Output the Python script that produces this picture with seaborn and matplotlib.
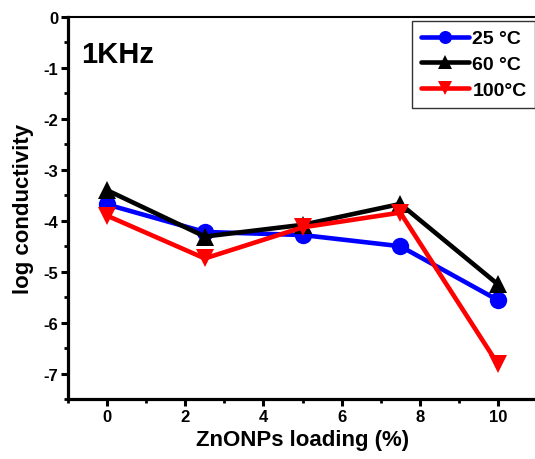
import numpy as np
import pandas as pd
import matplotlib
matplotlib.use("Agg")
import matplotlib.pyplot as plt
from matplotlib.ticker import MultipleLocator
import seaborn as sns

loading = [0, 2.5, 5, 7.5, 10]
t25 = [-3.68, -4.22, -4.28, -4.50, -5.56]
t60 = [-3.40, -4.31, -4.08, -3.67, -5.25]
t100 = [-3.90, -4.74, -4.13, -3.84, -6.82]
labels = ["25 °C", "60 °C", "100°C"]

df = pd.DataFrame({
    "loading": loading * 3,
    "logc": t25 + t60 + t100,
    "temp": [labels[0]] * 5 + [labels[1]] * 5 + [labels[2]] * 5,
})

sns.set_style("ticks")
plt.rcParams["font.family"] = ["Liberation Sans", "DejaVu Sans"]
plt.rcParams["font.weight"] = "bold"
plt.rcParams["text.color"] = "black"
plt.rcParams["axes.labelcolor"] = "black"
plt.rcParams["xtick.color"] = "black"
plt.rcParams["ytick.color"] = "black"
plt.rcParams["axes.unicode_minus"] = False

fig = plt.figure(figsize=(5.35, 4.6), dpi=100)
ax = fig.add_axes([0.127, 0.1304, 0.877, 0.8304])

sns.lineplot(data=df, x="loading", y="logc", hue="temp", style="temp",
             palette=["#0000ff", "#000000", "#ff0000"],
             markers=["o", "^", "v"], dashes=False, linewidth=3.3,
             markersize=12.5, markeredgewidth=0, ax=ax)

ax.set_xlim(-1, 11)
ax.set_ylim(-7.5, 0)
ax.xaxis.set_major_locator(MultipleLocator(2))
ax.xaxis.set_minor_locator(MultipleLocator(1))
ax.yaxis.set_major_locator(MultipleLocator(1))
ax.yaxis.set_minor_locator(MultipleLocator(0.5))
ax.tick_params(which="major", direction="out", length=5, width=2.2,
               labelsize=12, color="black", labelcolor="black", pad=2)
ax.tick_params(which="minor", direction="out", length=3, width=2, color="black")
for lab in ax.get_xticklabels() + ax.get_yticklabels():
    lab.set_fontweight("bold")

for s in ["left", "bottom"]:
    ax.spines[s].set_linewidth(2.3)
    ax.spines[s].set_color("black")
ax.spines["top"].set_visible(True)
ax.spines["top"].set_linewidth(1.5)
ax.spines["top"].set_color("black")
ax.spines["right"].set_visible(False)

ax.set_xlabel("ZnONPs loading (%)", fontsize=16, fontweight="bold", labelpad=4)
ax.set_ylabel("log conductivity", fontsize=16, fontweight="bold", labelpad=7)

ax.text(0.028, 0.94, "1KHz", transform=ax.transAxes, fontsize=21,
        fontweight="bold", va="top", ha="left")

leg = ax.legend(loc="upper left", bbox_to_anchor=(412 / 535, 1 - 22 / 460),
                bbox_transform=fig.transFigure, fancybox=False, frameon=True,
                prop={"size": 14, "weight": "bold"}, handlelength=2.5,
                handletextpad=0.15, labelspacing=0.42, borderpad=0.45,
                markerscale=0.75, borderaxespad=0)
leg.get_frame().set_edgecolor("black")
leg.get_frame().set_linewidth(1)

fig.savefig("out.png", dpi=100)
